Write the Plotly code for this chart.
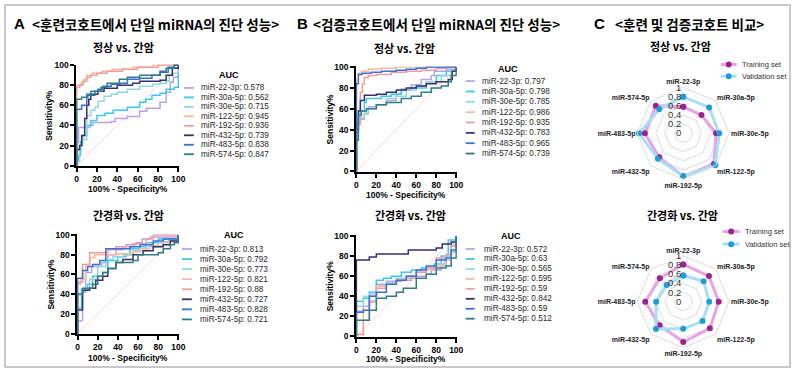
import plotly.graph_objects as go

W, H = 800, 377

mirnas = ["miR-22-3p", "miR-30a-5p", "miR-30e-5p", "miR-122-5p",
          "miR-192-5p", "miR-432-5p", "miR-483-5p", "miR-574-5p"]
colors = ["#b9a3e8", "#3cc6f0", "#92d8df", "#f8b99c",
          "#f29c9e", "#3b2e6e", "#3a6ed8", "#2c7e80"]

# AUC values
auc_train_nc = [0.578, 0.562, 0.715, 0.945, 0.936, 0.739, 0.838, 0.847]
auc_train_lc = [0.813, 0.792, 0.773, 0.821, 0.88, 0.727, 0.828, 0.721]
auc_valid_nc = [0.797, 0.798, 0.785, 0.986, 0.935, 0.783, 0.965, 0.739]
auc_valid_lc = [0.572, 0.63, 0.565, 0.595, 0.59, 0.842, 0.59, 0.512]
auc_str_train_lc = ["0.813", "0.792", "0.773", "0.821", "0.88", "0.727", "0.828", "0.721"]
auc_str_valid_lc = ["0.572", "0.63", "0.565", "0.595", "0.59", "0.842", "0.59", "0.512"]

# ROC vertices (100% - Specificity%, Sensitivity%)
A1_fpr = [
    [0, 0, 2, 13, 16, 34, 38, 50, 62, 69, 82, 88, 92, 95, 100],
    [0, 0, 2, 4, 6, 10, 14, 20, 28, 36, 50, 62, 68, 74, 82, 88, 96, 100],
    [0, 0, 3, 6, 10, 14, 18, 21, 27, 34, 40, 50, 62, 75, 82, 88, 91, 95, 100],
    [0, 0, 4, 7, 10, 15, 25, 35, 55, 75, 100],
    [0, 0, 3, 6, 10, 14, 20, 30, 45, 60, 80, 100],
    [0, 0, 3, 5, 8, 10, 12, 14, 21, 27, 40, 55, 62, 82, 88, 94, 100],
    [0, 0, 5, 10, 14, 21, 26, 34, 43, 50, 62, 74, 82, 88, 96, 100],
    [0, 0, 5, 11, 18, 24, 30, 42, 50, 62, 82, 90, 96, 100],
]
A1_tpr = [
    [0, 23, 38, 40, 43, 44, 47, 49, 54, 57, 63, 73, 83, 88, 100],
    [0, 4, 10, 24, 30, 40, 45, 50, 52, 55, 58, 63, 66, 70, 72, 76, 78, 100],
    [0, 5, 20, 26, 50, 55, 58, 64, 69, 71, 73, 76, 79, 81, 82, 84, 90, 92, 100],
    [0, 80, 82, 86, 90, 92, 94, 96, 98, 100, 100],
    [0, 78, 80, 84, 88, 90, 92, 94, 96, 98, 100, 100],
    [0, 16, 20, 30, 47, 60, 66, 71, 74, 77, 80, 82, 84, 85, 90, 97, 100],
    [0, 56, 60, 71, 74, 76, 79, 81, 82, 86, 87, 90, 94, 97, 100, 100],
    [0, 66, 68, 70, 74, 78, 82, 86, 88, 90, 93, 98, 100, 100],
]
A2_fpr = [
    [0, 0, 5, 8, 14, 24, 30, 38, 48, 58, 64, 72, 100],
    [0, 0, 4, 10, 15, 25, 30, 40, 48, 52, 62, 68, 80, 100],
    [0, 0, 5, 12, 20, 28, 35, 45, 55, 68, 80, 90, 100],
    [0, 0, 3, 8, 12, 17, 40, 55, 62, 72, 85, 95, 100],
    [0, 0, 5, 12, 30, 45, 55, 68, 75, 100],
    [0, 0, 5, 12, 18, 25, 30, 38, 45, 55, 65, 75, 85, 92, 100],
    [0, 0, 5, 10, 15, 22, 28, 40, 52, 62, 75, 85, 100],
    [0, 0, 5, 15, 20, 25, 30, 38, 55, 60, 80, 85, 92, 96, 100],
]
A2_tpr = [
    [0, 13, 42, 62, 68, 72, 80, 88, 90, 92, 96, 98, 100],
    [0, 26, 45, 50, 58, 62, 74, 78, 80, 86, 88, 92, 96, 100],
    [0, 39, 45, 55, 68, 75, 78, 80, 84, 88, 92, 95, 100],
    [0, 50, 55, 70, 77, 80, 81, 83, 86, 89, 93, 95, 100],
    [0, 52, 70, 82, 85, 88, 91, 96, 100, 100],
    [0, 24, 44, 46, 54, 58, 66, 72, 75, 80, 84, 88, 90, 94, 100],
    [0, 56, 64, 68, 70, 74, 86, 86, 88, 90, 94, 96, 100],
    [0, 40, 46, 50, 58, 62, 66, 72, 74, 80, 82, 86, 90, 92, 100],
]
B1_fpr = [
    [0, 0, 1, 2, 8, 12, 20, 30, 40, 45, 55, 65, 75, 78, 90, 100],
    [0, 0, 2, 4, 8, 10, 25, 35, 45, 55, 70, 80, 90, 100],
    [0, 0, 3, 8, 12, 20, 30, 40, 50, 60, 70, 85, 95, 100],
    [0, 0, 2, 5, 12, 25, 40, 100],
    [0, 0, 2, 4, 6, 8, 12, 20, 35, 50, 65, 80, 90, 100],
    [0, 0, 2, 4, 8, 20, 30, 40, 50, 60, 70, 80, 92, 96, 100],
    [0, 0, 2, 6, 15, 25, 40, 50, 60, 70, 100],
    [0, 0, 2, 5, 10, 20, 30, 45, 55, 65, 75, 85, 92, 95, 100],
]
B1_tpr = [
    [0, 2, 46, 50, 55, 62, 64, 68, 74, 79, 83, 88, 92, 96, 98, 100],
    [0, 40, 50, 58, 66, 70, 72, 74, 78, 80, 86, 92, 96, 100],
    [0, 45, 52, 56, 60, 64, 70, 72, 78, 82, 86, 92, 96, 100],
    [0, 88, 94, 96, 98, 99, 100, 100],
    [0, 35, 45, 76, 84, 90, 92, 93, 95, 96, 97, 99, 100, 100],
    [0, 40, 58, 68, 73, 74, 76, 78, 80, 82, 84, 86, 88, 96, 100],
    [0, 84, 93, 94, 95, 96, 97, 98, 99, 100, 100],
    [0, 30, 54, 58, 60, 64, 66, 70, 72, 76, 80, 82, 86, 92, 100],
]
B2_fpr = [
    [0, 0, 7, 13, 20, 30, 45, 55, 70, 75, 85, 90, 95, 100],
    [0, 0, 7, 13, 20, 27, 35, 45, 55, 65, 78, 85, 92, 100],
    [0, 0, 7, 13, 20, 30, 40, 50, 60, 70, 80, 90, 95, 100],
    [0, 0, 7, 13, 20, 30, 40, 50, 60, 70, 80, 88, 95, 100],
    [0, 0, 7, 13, 20, 30, 40, 50, 60, 70, 80, 90, 95, 100],
    [0, 0, 13, 20, 52, 80, 86, 95, 100],
    [0, 0, 7, 13, 20, 30, 40, 50, 60, 70, 80, 90, 95, 100],
    [0, 0, 13, 20, 30, 40, 47, 60, 70, 80, 90, 95, 100],
]
B2_tpr = [
    [0, 25, 30, 35, 52, 55, 56, 60, 62, 66, 70, 80, 84, 100],
    [0, 35, 38, 44, 56, 58, 60, 64, 66, 68, 72, 80, 96, 100],
    [0, 30, 40, 42, 50, 54, 58, 60, 64, 68, 72, 80, 90, 100],
    [0, 2, 26, 34, 50, 52, 56, 60, 64, 66, 70, 76, 92, 100],
    [0, 2, 16, 40, 48, 52, 56, 58, 64, 68, 78, 82, 90, 100],
    [0, 76, 79, 82, 86, 88, 92, 94, 100],
    [0, 24, 26, 40, 44, 52, 56, 60, 66, 70, 76, 78, 86, 100],
    [0, 16, 26, 38, 40, 44, 48, 58, 62, 68, 70, 78, 100],
]

panel_titles = ["A", "B", "C"]
panel_texts = ["<훈련코호트에서 단일 miRNA의 진단 성능>",
               "<검증코호트에서 단일 miRNA의 진단 성능>",
               "<훈련 및 검증코호트 비교>"]
sub_titles = ["정상 vs. 간암", "간경화 vs. 간암"]
radar_names = ["Training set", "Validation set"]
ticks = [0, 20, 40, 60, 80, 100]
rticks = [0, 0.2, 0.4, 0.6, 0.8, 1]
rtick_text = ["0", "0.2", "0.4", "0.6", "0.8", "1"]

KR = "Noto Sans CJK KR"
AR = "Liberation Sans, Arial, sans-serif"


def px(x):
    return x / W


def py(y):
    return 1 - y / H


fig = go.Figure()
annotations = []
shapes = []

roc_panels = [
    (A1_fpr, A1_tpr, [f"{v:.3f}" for v in auc_train_nc], "", 75, 179, 62, 166,
     dict(auc=(230, 73), lx=(184, 194), tx=199, y0=86, dy=9.7), 123, 44, 190, 48),
    (A2_fpr, A2_tpr, auc_str_train_lc, "2", 76, 179, 236, 338,
     dict(auc=(235, 237), lx=(182, 192), tx=198, y0=251, dy=10.3), 128, 216, 363, 50),
    (B1_fpr, B1_tpr, [f"{v:.3f}" for v in auc_valid_nc], "3", 358, 460, 64, 172,
     dict(auc=(512, 67), lx=(469, 478), tx=483, y0=79, dy=10.6), 407, 45, 196, 332),
    (B2_fpr, B2_tpr, auc_str_valid_lc, "4", 358, 460, 237, 341,
     dict(auc=(515, 238), lx=(469, 478), tx=485, y0=251, dy=10.2), 413, 216, 364, 332),
]

layout_axes = {}
for pi, (fx, ty, aucs, sfx, x0, x1, yt, yb, leg, tx_c, ty_c, xt_y, yt_x) in enumerate(roc_panels):
    xa = "x" + sfx
    ya = "y" + sfx
    fig.add_trace(go.Scatter(x=[0, 100], y=[0, 100], mode="lines", xaxis=xa, yaxis=ya,
                             line=dict(color="#f7c9c9", width=0.8), showlegend=False,
                             hoverinfo="skip"))
    for i in range(len(mirnas)):
        fig.add_trace(go.Scatter(x=fx[i], y=ty[i], mode="lines", xaxis=xa, yaxis=ya,
                                 line=dict(color=colors[i], width=1.5, shape="hv"),
                                 name=mirnas[i], showlegend=False))
    axcommon = dict(showline=True, linecolor="black", linewidth=1.5, ticks="outside",
                    ticklen=4, tickwidth=1.5, tickcolor="black", showgrid=False,
                    zeroline=False, tickvals=ticks, range=[-0.4, 100.6],
                    tickfont=dict(family=AR, size=8.5, color="black", weight="bold"))
    layout_axes["xaxis" + sfx] = dict(axcommon, domain=[px(x0), px(x1)], anchor=ya)
    layout_axes["yaxis" + sfx] = dict(axcommon, domain=[py(yb), py(yt)], anchor=xa)
    annotations.append(dict(text=sub_titles[pi % 2], x=px(tx_c), y=py(ty_c), xref="paper",
                            yref="paper", showarrow=False, xanchor="center", yanchor="middle",
                            font=dict(family=KR, size=11, color="black", weight="bold")))
    annotations.append(dict(text="100% - Specificity%", x=px((x0 + x1) / 2), y=py(xt_y),
                            xref="paper", yref="paper", showarrow=False, xanchor="center",
                            yanchor="middle", borderpad=0,
                            font=dict(family=AR, size=8.5, color="black", weight="bold")))
    annotations.append(dict(text="Sensitivity%", x=px(yt_x), y=py((yt + yb) / 2),
                            xref="paper", yref="paper", showarrow=False, xanchor="center",
                            yanchor="middle", textangle=-90,
                            font=dict(family=AR, size=8.5, color="black", weight="bold")))
    annotations.append(dict(text="AUC", x=px(leg["auc"][0]), y=py(leg["auc"][1]), xref="paper",
                            yref="paper", showarrow=False, xanchor="center", yanchor="middle",
                            font=dict(family=AR, size=9, color="black", weight="bold")))
    for i in range(len(mirnas)):
        yy = leg["y0"] + leg["dy"] * i
        shapes.append(dict(type="line", xref="paper", yref="paper", x0=px(leg["lx"][0]),
                           x1=px(leg["lx"][1]), y0=py(yy), y1=py(yy),
                           line=dict(color=colors[i], width=1.8)))
        annotations.append(dict(text=f"{mirnas[i]}: {aucs[i]}", x=px(leg["tx"]), y=py(yy),
                                xref="paper", yref="paper", showarrow=False, xanchor="left",
                                yanchor="middle",
                                font=dict(family=AR, size=8.2, color="#2a2a2a")))

# Radar panels
train_line, train_mark = "#e7a3e4", "#9c2290"
valid_line, valid_mark = "#a8def6", "#1f9cd8"
radar_sets = [(auc_train_nc, auc_valid_nc, "polar", 689, 132.5, 62, 74, 727, 743, 746),
              (auc_train_lc, auc_valid_lc, "polar2", 689, 305, 233, 246, 729, 746, 749)]
theta_closed = mirnas + [mirnas[0]]
for ri, (tr, va, pname, cx, cy, ly1, ly2, lx0, lx1, ltx) in enumerate(radar_sets):
    R = 47
    fig.add_trace(go.Scatterpolar(r=tr + [tr[0]], theta=theta_closed, subplot=pname,
                                  mode="lines+markers", name=radar_names[0],
                                  line=dict(color=train_line, width=3),
                                  marker=dict(color=train_mark, size=6), showlegend=False))
    fig.add_trace(go.Scatterpolar(r=va + [va[0]], theta=theta_closed, subplot=pname,
                                  mode="lines+markers", name=radar_names[1],
                                  line=dict(color=valid_line, width=3),
                                  marker=dict(color=valid_mark, size=6), showlegend=False))
    layout_axes[pname] = dict(
        domain=dict(x=[px(cx - R), px(cx + R)], y=[py(cy + R), py(cy - R)]),
        gridshape="linear", bgcolor="rgba(0,0,0,0)",
        radialaxis=dict(range=[0, 1], tickvals=rticks, ticktext=rtick_text, angle=90,
                        side="counterclockwise", showline=False, ticks="",
                        gridcolor="#dcdcdc", gridwidth=1, tickangle=90,
                        tickfont=dict(family=AR, size=9.5, color="#333333")),
        angularaxis=dict(direction="clockwise", rotation=90, showgrid=False,
                         showline=True, linecolor="#dcdcdc", linewidth=1, ticks="",
                         tickfont=dict(family=AR, size=7, color="#222222", weight="bold")),
    )
    annotations.append(dict(text=sub_titles[ri], x=px(686 if ri == 0 else 688),
                            y=py(43 if ri == 0 else 216), xref="paper", yref="paper",
                            showarrow=False, xanchor="center", yanchor="middle",
                            font=dict(family=KR, size=11, color="black", weight="bold")))
    for name, yy, lc, mc in [(radar_names[0], ly1, train_line, train_mark),
                             (radar_names[1], ly2, valid_line, valid_mark)]:
        shapes.append(dict(type="line", xref="paper", yref="paper", x0=px(lx0), x1=px(lx1),
                           y0=py(yy), y1=py(yy), line=dict(color=lc, width=3)))
        shapes.append(dict(type="circle", xref="paper", yref="paper", xsizemode="pixel",
                           ysizemode="pixel", xanchor=px((lx0 + lx1) / 2), yanchor=py(yy),
                           x0=-3, x1=3, y0=-3, y1=3, fillcolor=mc, line=dict(width=0)))
        annotations.append(dict(text=name, x=px(ltx), y=py(yy), xref="paper", yref="paper",
                                showarrow=False, xanchor="left", yanchor="middle",
                                font=dict(family=AR, size=7.5, color="#333333")))

# Panel headers
for lab, txt, lx, tx in zip(panel_titles, panel_texts, [10, 296, 597], [28, 313, 618]):
    annotations.append(dict(text=lab, x=px(lx), y=py(20), xref="paper", yref="paper",
                            showarrow=False, xanchor="left", yanchor="middle",
                            font=dict(family=AR, size=15, color="black", weight="bold")))
    annotations.append(dict(text=txt, x=px(tx), y=py(20), xref="paper", yref="paper",
                            showarrow=False, xanchor="left", yanchor="middle",
                            font=dict(family=KR, size=13.5, color="black", weight="bold")))

# Outer frame
shapes.append(dict(type="rect", xref="paper", yref="paper", x0=px(3), x1=px(797),
                   y0=py(372), y1=py(1), line=dict(color="#c8c8c8", width=2),
                   fillcolor="rgba(0,0,0,0)"))

fig.update_layout(width=W, height=H, margin=dict(l=0, r=0, t=0, b=0),
                  paper_bgcolor="white", plot_bgcolor="white", showlegend=False,
                  annotations=annotations, shapes=shapes, **layout_axes)

fig.write_html("out.html", config={"displayModeBar": False},
               post_script="document.body.style.margin='0';")
